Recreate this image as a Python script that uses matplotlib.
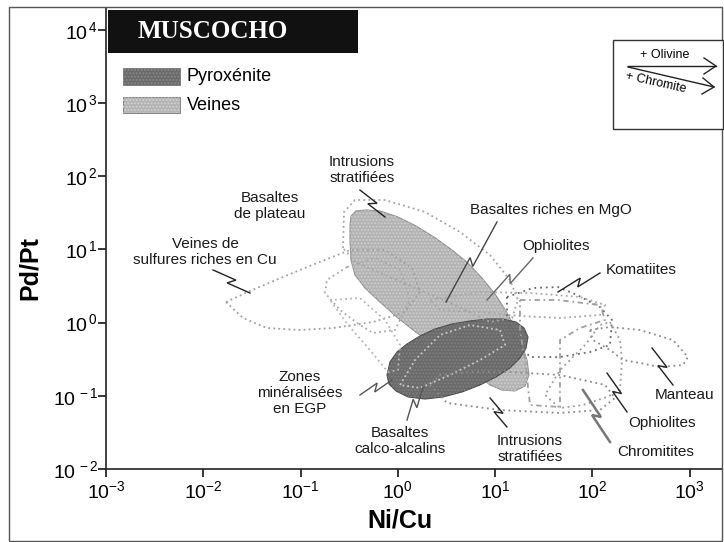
import numpy as np
import matplotlib
matplotlib.use("Agg")
import matplotlib.pyplot as plt
from matplotlib.patches import Polygon, Rectangle
from matplotlib.lines import Line2D

plt.rcParams['font.family'] = ['Liberation Sans', 'DejaVu Sans']
plt.rcParams['mathtext.fontset'] = 'custom'
plt.rcParams['mathtext.rm'] = 'Liberation Sans'
plt.rcParams['mathtext.it'] = 'Liberation Sans:italic'
plt.rcParams['mathtext.bf'] = 'Liberation Sans:bold'
plt.rcParams['hatch.linewidth'] = 0.9

# ---------------- data (log10 Ni/Cu, log10 Pd/Pt) ----------------
pyroxenite_lx = [-0.112, -0.081, -0.009, 0.094, 0.227, 0.381, 0.556, 0.741, 0.916, 1.080, 1.214, 1.296,
                 1.337, 1.317, 1.255, 1.152, 1.008, 0.844, 0.659, 0.464, 0.279, 0.104, -0.020, -0.091]
pyroxenite_ly = [-0.716, -0.538, -0.402, -0.292, -0.183, -0.087, -0.019, 0.022, 0.049, 0.049, 0.008, -0.074,
                 -0.197, -0.347, -0.484, -0.620, -0.743, -0.852, -0.948, -1.016, -1.044, -1.016, -0.934, -0.839]

veines_lx = [-0.492, -0.482, -0.431, -0.328, -0.184, 0.001, 0.186, 0.371, 0.556, 0.720, 0.864, 0.998, 1.111,
             1.204, 1.275, 1.327, 1.347, 1.306, 1.204, 1.070, 0.947, 0.638, 0.196, 0.001, -0.184, -0.338,
             -0.441, -0.482, -0.492]
veines_ly = [1.333, 1.456, 1.525, 1.539, 1.525, 1.443, 1.320, 1.169, 0.992, 0.814, 0.609, 0.391, 0.158,
             -0.074, -0.306, -0.511, -0.716, -0.866, -0.934, -0.921, -0.852, -0.511, -0.142, 0.063, 0.281,
             0.473, 0.650, 0.855, 1.128]

# reference fields (outlines)
cu_veins_lx = [-1.767, -1.520, -1.181, -0.831, -0.492, -0.133, 0.145, 0.227, 0.073, -0.256, -0.667, -1.006, -1.345, -1.592]
cu_veins_ly = [0.281, 0.432, 0.623, 0.814, 0.992, 0.992, 0.746, 0.418, 0.145, 0.008, -0.074, -0.101, -0.074, 0.063]

plateau_lx = [-0.523, -0.729, -0.749, -0.595, -0.420, -0.256, -0.030, 0.124, 0.022, -0.235]
plateau_ly = [0.760, 0.582, 0.404, 0.172, -0.005, -0.142, -0.101, 0.309, 0.719, 0.883]

intr_top_lx = [-0.564, -0.554, -0.441, -0.133, 0.279, 0.638, 0.947, 1.152, 1.234, 1.173, 0.947, 0.587, 0.227, -0.133, -0.441]
intr_top_ly = [1.019, 1.511, 1.675, 1.675, 1.511, 1.238, 0.923, 0.582, 0.309, 0.063, 0.008, 0.240, 0.445, 0.650, 0.828]

zones_lx = [-0.698, -0.390, -0.133, 0.022, 0.001, -0.102, -0.287, -0.513]
zones_ly = [0.309, 0.336, 0.036, -0.306, -0.648, -0.675, -0.374, -0.033]

calco_lx = [0.022, 0.176, 0.433, 0.741, 1.049, 1.101, 0.844, 0.535, 0.227]
calco_ly = [-0.852, -0.511, -0.169, -0.033, -0.101, -0.306, -0.511, -0.716, -0.893]

mgo_lx = [0.330, 0.844, 1.358, 1.871, 2.129, 2.077, 1.666, 1.255, 0.844, 0.433]
mgo_ly = [0.309, 0.418, 0.404, 0.350, 0.240, 0.104, 0.063, 0.090, 0.145, 0.172]

komatiites_lx = [1.121, 1.388, 1.645, 1.841, 2.077, 2.200, 2.180, 1.974, 1.666, 1.358, 1.204, 1.121]
komatiites_ly = [0.350, 0.473, 0.486, 0.377, 0.213, 0.036, -0.306, -0.402, -0.470, -0.470, -0.238, 0.036]

manteau_lx = [1.974, 2.180, 2.488, 2.827, 2.981, 2.930, 2.694, 2.488, 2.314, 2.180, 2.005]
manteau_ly = [-0.101, -0.060, -0.101, -0.238, -0.470, -0.579, -0.607, -0.552, -0.511, -0.374, -0.238]

ophio_low_lx = [2.180, 2.283, 2.303, 2.283, 2.149, 1.902, 1.666, 1.512, 1.666, 1.923, 2.077]
ophio_low_ly = [0.008, -0.238, -0.511, -0.921, -1.016, -1.126, -1.167, -0.989, -0.648, -0.306, -0.033]

intr_bot_lx = [0.330, 0.505, 1.049, 1.666, 2.077, 2.231, 2.129, 1.666, 1.152, 0.741, 0.433]
intr_bot_ly = [-0.852, -1.098, -1.194, -1.235, -1.194, -1.030, -0.852, -0.716, -0.675, -0.675, -0.716]

chromitites_lx = [1.255, 1.645, 2.077, 2.129, 1.871, 1.666, 1.666, 1.358, 1.306, 1.255]
chromitites_ly = [0.309, 0.309, 0.240, 0.036, -0.074, -0.238, -1.153, -1.126, -0.511, -0.101]

# labels: text, position (log10 x, log10 y)
label_texts = ["Intrusions\nstratifiées", "Basaltes\nde plateau", "Veines de\nsulfures riches en Cu",
               "Basaltes riches en MgO", "Ophiolites", "Komatiites", "Manteau", "Ophiolites",
               "Chromitites", "Intrusions\nstratifiées", "Basaltes\ncalco-alcalins",
               "Zones\nminéralisées\nen EGP"]
label_lx = [-0.369, -1.314, -1.983, 1.573, 1.625, 2.498, 2.951, 2.714, 2.653, 1.358, 0.022, -1.006]
label_ly = [2.085, 1.593, 0.964, 1.538, 1.046, 0.719, -0.989, -1.372, -1.768, -1.727, -1.617, -0.962]

# leader lines (start, end) in log10 coordinates
leader_x0 = [-1.900, -0.390, 1.018, 1.388, 2.077, 2.612, 2.149, 1.902, 0.947, 0.258, -0.390]
leader_y0 = [0.719, 1.811, 1.374, 0.883, 0.678, -0.347, -0.689, -0.921, -1.030, -0.880, -0.989]
leader_x1 = [-1.520, -0.133, 0.494, 0.916, 1.645, 2.827, 2.355, 2.180, 1.121, 0.094, -0.061]
leader_y1 = [0.404, 1.443, 0.281, 0.309, 0.418, -0.852, -1.221, -1.631, -1.426, -1.331, -0.784]
leader_colors = ['#222222', '#222222', '#444444', '#666666', '#222222', '#222222', '#222222',
                 '#777777', '#222222', '#555555', '#555555']

x_ticks = [1e-3, 1e-2, 1e-1, 1e0, 1e1, 1e2, 1e3]
y_ticks = [1e-2, 1e-1, 1e0, 1e1, 1e2, 1e3, 1e4]
y_exponents = [-2, -1, 0, 1, 2, 3, 4]

# ---------------- figure ----------------
W, H = 724, 542
fig = plt.figure(figsize=(W / 100, H / 100), dpi=100)
fig.patch.set_facecolor('white')


def fx(px):
    return px / W


def fy(py):
    return 1 - py / H


ax = fig.add_axes([fx(106), fy(469), fx(722) - fx(106), fy(8) - fy(469)])
ax.set_xscale('log')
ax.set_yscale('log')
ax.set_xlim(1e-3, 10 ** 3.331)
ax.set_ylim(1e-2, 10 ** 4.298)
for s in ['top', 'right']:
    ax.spines[s].set_visible(False)
for s in ['left', 'bottom']:
    ax.spines[s].set_linewidth(1.2)
    ax.spines[s].set_color('#222222')
ax.set_xticks(x_ticks)
ax.set_yticks(y_ticks)
ax.set_yticklabels([r'$\mathregular{10}^{\,%d}$' % e for e in y_exponents])
ax.minorticks_off()
ax.tick_params(axis='x', direction='out', length=6, width=1.1, labelsize=14, pad=2)
ax.tick_params(axis='y', direction='out', length=6, width=1.1, labelsize=14, pad=0)


def to_data(lx, ly):
    return np.column_stack([np.power(10.0, lx), np.power(10.0, ly)])


# filled regions
veines_xy = to_data(veines_lx, veines_ly)
ax.add_patch(Polygon(veines_xy, closed=True, facecolor='#b3b3b3', edgecolor='#8f8f8f', lw=0.8, zorder=2))
ax.add_patch(Polygon(veines_xy, closed=True, facecolor='none', edgecolor='#cfcfcf', lw=0, hatch='.....', zorder=2.1))

pyx_xy = to_data(pyroxenite_lx, pyroxenite_ly)
ax.add_patch(Polygon(pyx_xy, closed=True, facecolor='#6a6a6a', edgecolor='#4a4a4a', lw=0.8, zorder=3))
ax.add_patch(Polygon(pyx_xy, closed=True, facecolor='none', edgecolor='#808080', lw=0, hatch='.....', zorder=3.1))

# dotted field outlines
fields = [
    (cu_veins_lx, cu_veins_ly, '#a0a0a0', (0, (1, 1.8))),
    (plateau_lx, plateau_ly, '#a8a8a8', (0, (1, 1.8))),
    (intr_top_lx, intr_top_ly, '#a5a5a5', (0, (1, 1.8))),
    (zones_lx, zones_ly, '#b5b5b5', (0, (1, 1.8))),
    (calco_lx, calco_ly, '#c8c8c8', (0, (1, 1.6))),
    (mgo_lx, mgo_ly, '#a8a8a8', (0, (1, 1.8))),
    (komatiites_lx, komatiites_ly, '#6a6a6a', (0, (1, 2.2))),
    (manteau_lx, manteau_ly, '#8a8a8a', (0, (1, 2.0))),
    (ophio_low_lx, ophio_low_ly, '#9a9a9a', (0, (1, 2.0))),
    (intr_bot_lx, intr_bot_ly, '#8a8a8a', (0, (1, 2.0))),
    (chromitites_lx, chromitites_ly, '#a0a0a0', (0, (3, 2, 1, 2))),
]
for lx, ly, col, ls in fields:
    xy = to_data(lx, ly)
    ax.add_patch(Polygon(xy, closed=True, facecolor='none', edgecolor=col, lw=1.3,
                         linestyle=ls, zorder=4))

# leader lines with lightning zig-zag
for x0, y0, x1, y1, col in zip(leader_x0, leader_y0, leader_x1, leader_y1, leader_colors):
    d = ax.transData.transform(to_data([x0, x1], [y0, y1]))
    v = d[1] - d[0]
    L = np.hypot(*v)
    u = v / L
    n = np.array([-u[1], u[0]])
    m = (d[0] + d[1]) / 2
    pts = np.array([d[0], m + u * 3 + n * 3.5, m - u * 3 - n * 3.5, d[1]])
    dp = ax.transData.inverted().transform(pts)
    lw = 1.8 if col == '#777777' else 1.0
    ax.plot(dp[:, 0], dp[:, 1], color=col, lw=lw, zorder=5, solid_joinstyle='miter')

# labels
for t, lx, ly in zip(label_texts, label_lx, label_ly):
    ax.text(10 ** lx, 10 ** ly, t, ha='center', va='center', fontsize=11, color='#1a1a1a',
            linespacing=1.15, zorder=6)

# axis titles
fig.text(fx(400), fy(521), 'Ni/Cu', ha='center', va='center', fontsize=18, fontweight='bold')
fig.text(fx(30), fy(268), 'Pd/Pt', ha='center', va='center', fontsize=18, fontweight='bold', rotation=90)

# title box
fig.add_artist(Rectangle((fx(108), fy(53)), fx(358) - fx(108), fy(10) - fy(53),
                         transform=fig.transFigure, facecolor='#111111', edgecolor='none', zorder=10))
fig.text(fx(213), fy(32), 'MUSCOCHO', ha='center', va='center', fontsize=18, color='white',
         family=['Liberation Serif', 'DejaVu Serif'], fontweight='bold', zorder=11)

# legend
for (ytop, ybot, fc, hc, name) in [(68, 85, '#6a6a6a', '#8a8a8a', 'Pyroxénite'),
                                   (97, 113, '#b3b3b3', '#d2d2d2', 'Veines')]:
    fig.add_artist(Rectangle((fx(123), fy(ybot)), fx(180) - fx(123), fy(ytop) - fy(ybot),
                             transform=fig.transFigure, facecolor=fc, edgecolor='#777777', lw=0.6, zorder=10))
    fig.add_artist(Rectangle((fx(123), fy(ybot)), fx(180) - fx(123), fy(ytop) - fy(ybot),
                             transform=fig.transFigure, facecolor='none', edgecolor=hc, lw=0,
                             hatch='.....', zorder=10.5))
    fig.text(fx(187), fy((ytop + ybot) / 2), name, ha='left', va='center', fontsize=13, zorder=11)

# arrow box
fig.add_artist(Rectangle((fx(613), fy(129)), fx(723) - fx(613), fy(40) - fy(129),
                         transform=fig.transFigure, facecolor='white', edgecolor='#333333', lw=1.0, zorder=10))
arrow_lines = [
    ([628, 716], [66, 66]),
    ([704, 716, 704], [58, 66, 74]),
    ([628, 714], [67, 87]),
    ([703, 714, 702], [78, 87, 94]),
]
for xs, ys in arrow_lines:
    fig.add_artist(Line2D([fx(v) for v in xs], [fy(v) for v in ys], transform=fig.transFigure,
                          color='#222222', lw=1.0, zorder=11))
fig.text(fx(665), fy(55), '+ Olivine', ha='center', va='center', fontsize=9, zorder=12)
fig.text(fx(656), fy(83), '+ Chromite', ha='center', va='center', fontsize=9, rotation=-12.5,
         zorder=12)

# outer frame
fig.add_artist(Rectangle((fx(9), fy(541)), fx(722) - fx(9), fy(7) - fy(541), transform=fig.transFigure,
                         facecolor='none', edgecolor='#555555', lw=1.0, zorder=1))

fig.savefig('out.png', dpi=100, facecolor='white')
